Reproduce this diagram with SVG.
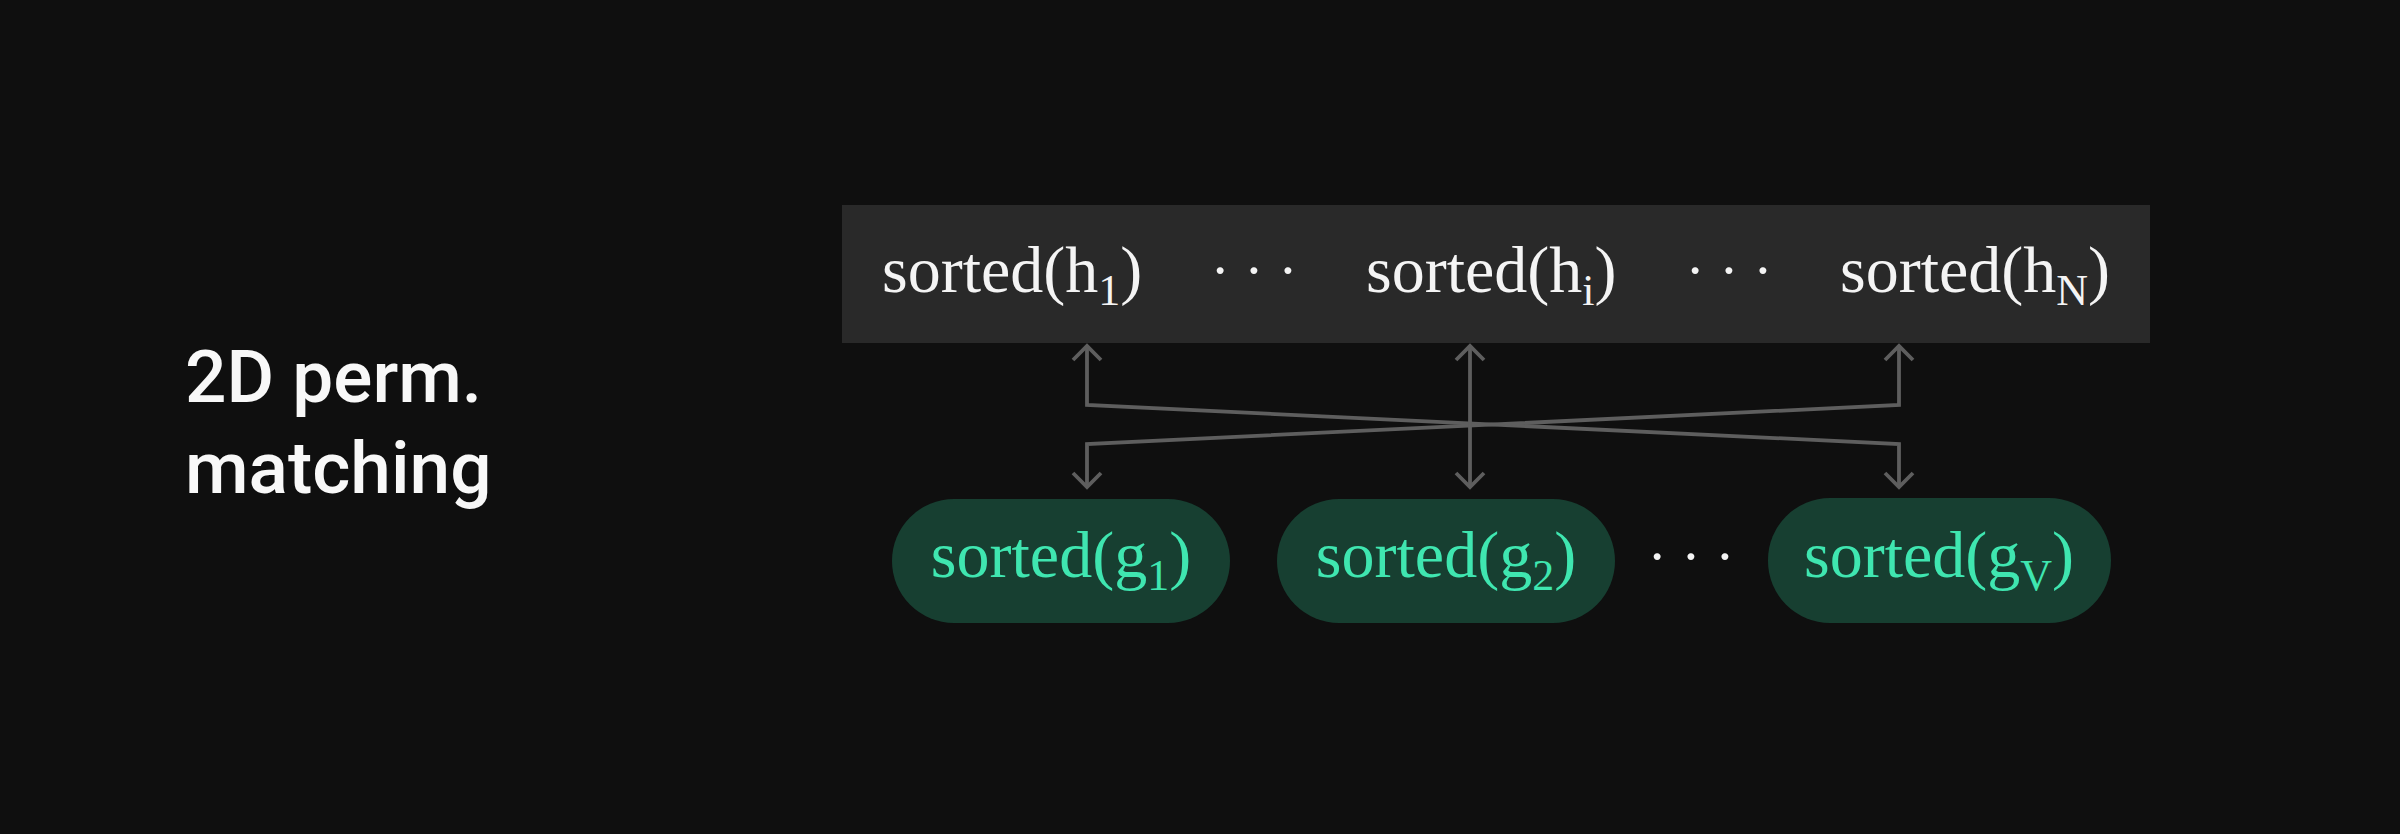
<svg xmlns="http://www.w3.org/2000/svg" width="2400" height="834" viewBox="0 0 2400 834">
  <defs>
    <style>
      .serif { font-family: "Liberation Serif", "Times New Roman", serif; font-size: 66px; }
      .white { fill: #f4f4f4; }
      .green { fill: #3fe6b0; }
      .dots { font-family: "Liberation Serif", serif; font-size: 58px; fill: #f4f4f4; text-anchor: middle; }
      .label { font-family: Roboto, "Liberation Sans", sans-serif; font-size: 73px; font-weight: 500; fill: #f8f8f8; }
      .conn { fill: none; stroke: #5e5e5e; stroke-width: 3.8; marker-start: url(#chev); marker-end: url(#chev); }
      .pill { fill: #173f31; }
    </style>
    <marker id="chev" viewBox="-18 -18 36 36" refX="0" refY="0" markerWidth="36" markerHeight="36" markerUnits="userSpaceOnUse" orient="auto-start-reverse">
      <path d="M-14,-14 L0,0 L-14,14" fill="none" stroke="#5e5e5e" stroke-width="3.8"/>
    </marker>
  </defs>
  <rect x="0" y="0" width="2400" height="834" fill="#0f0f0f"/>

  <g id="label">
    <text class="label" x="185" y="402">2D perm.</text>
    <text class="label" x="185" y="493">matching</text>
  </g>

  <g id="h-row">
    <rect x="842" y="205" width="1308" height="138" fill="#292929"/>
    <g id="h1"><text class="serif white" x="882" y="292">sorted(h<tspan font-size="44" dy="13">1</tspan><tspan dy="-13">)</tspan></text></g>
    <text class="dots" x="1254" y="290">· · ·</text>
    <g id="hi"><text class="serif white" x="1366" y="292">sorted(h<tspan font-size="44" dy="13">i</tspan><tspan dy="-13">)</tspan></text></g>
    <text class="dots" x="1729" y="290">· · ·</text>
    <g id="hN"><text class="serif white" x="1840" y="292">sorted(h<tspan font-size="44" dy="13">N</tspan><tspan dy="-13">)</tspan></text></g>
  </g>

  <g id="connectors">
    <path class="conn" d="M1087 346 L1087 405 L1899 444 L1899 487"/>
    <path class="conn" d="M1899 346 L1899 405 L1087 444 L1087 487"/>
    <path class="conn" d="M1470 346 L1470 487"/>
  </g>

  <g id="g1">
    <rect class="pill" x="892" y="499" width="338" height="124" rx="62"/>
    <text class="serif green" x="1061" y="577" text-anchor="middle">sorted(g<tspan font-size="44" dy="13">1</tspan><tspan dy="-13">)</tspan></text>
  </g>
  <g id="g2">
    <rect class="pill" x="1277" y="499" width="338" height="124" rx="62"/>
    <text class="serif green" x="1446" y="577" text-anchor="middle">sorted(g<tspan font-size="44" dy="13">2</tspan><tspan dy="-13">)</tspan></text>
  </g>
  <text class="dots" x="1691" y="576">· · ·</text>
  <g id="gV">
    <rect class="pill" x="1768" y="498" width="343" height="125" rx="62"/>
    <text class="serif green" x="1939" y="577" text-anchor="middle">sorted(g<tspan font-size="44" dy="13">V</tspan><tspan dy="-13">)</tspan></text>
  </g>
</svg>
